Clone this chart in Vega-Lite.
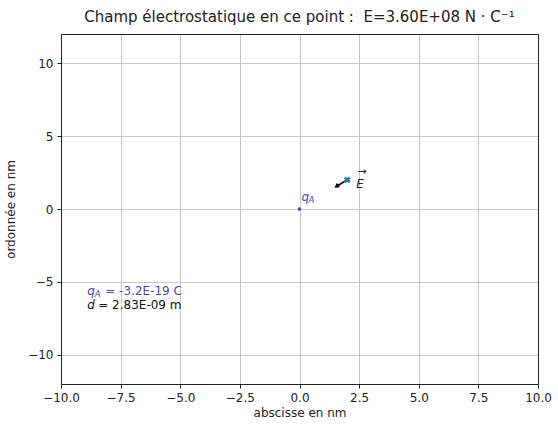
{
  "$schema": "https://vega.github.io/schema/vega-lite/v6.json",
  "width": 477,
  "height": 350,
  "autosize": {"type": "none"},
  "padding": {"left": 61, "top": 34, "right": 20, "bottom": 40},
  "background": "white",
  "title": {"text": "Champ électrostatique en ce point :\u00a0\u00a0E=3.60E+08 N\u00a0·\u00a0C⁻¹", "font": "DejaVu Sans", "fontSize": 15, "fontWeight": "normal", "color": "#222222", "offset": 9, "anchor": "middle"},
  "config": {
    "view": {"stroke": "#222222", "strokeWidth": 1},
    "axis": {"labelFont": "DejaVu Sans", "labelFontSize": 12, "labelColor": "#222222", "titleFont": "DejaVu Sans", "titleFontSize": 12, "titleFontWeight": "normal", "titleColor": "#222222", "gridColor": "#c8c8c8", "gridWidth": 1, "tickColor": "#222222", "tickSize": 4, "domain": true, "domainColor": "#222222", "labelPadding": 4, "labelFlush": false}
  },
  "resolve": {"axis": {"x": "independent", "y": "independent"}},
  "datasets": {
    "charge": [{"x": 0, "y": 0}],
    "point": [{"x": 2, "y": 2}],
    "arrow": [{"x": 2, "y": 2, "x2": 1.55, "y2": 1.55}],
    "info": [{"x": -8.9, "y": -5.6, "t": "q", "sub": "A", "rest": "=\u00a0-3.2E-19 C"}, {"x": -8.9, "y": -6.6, "d": "d", "rest": "=\u00a02.83E-09 m"}]
  },
  "layer": [
    {
      "data": {"name": "charge"},
      "mark": {"type": "point", "shape": "circle", "size": 14, "color": "#4b4b9c", "filled": true, "opacity": 1},
      "encoding": {
        "x": {"field": "x", "type": "quantitative", "scale": {"domain": [-10, 10], "nice": false, "zero": false}, "axis": {"title": "abscisse en nm", "orient": "bottom", "values": [-10, -7.5, -5, -2.5, 0, 2.5, 5, 7.5, 10], "format": ".1f", "labelExpr": "replace(datum.label, '-', '−')", "titlePadding": 4}},
        "y": {"field": "y", "type": "quantitative", "scale": {"domain": [-12, 12], "nice": false, "zero": false}, "axis": {"title": "ordonnée en nm", "orient": "left", "values": [-10, -5, 0, 5, 10], "labelExpr": "replace(datum.label, '-', '−')", "titlePadding": 10}}
      }
    },
    {
      "data": {"name": "charge"},
      "mark": {"type": "text", "text": "q", "fontStyle": "italic", "font": "DejaVu Sans", "fontSize": 12, "color": "#4b4ba8", "align": "left", "dx": 2, "dy": -12},
      "encoding": {
        "x": {"field": "x", "type": "quantitative", "axis": {"orient": "top", "title": null, "labels": false, "ticks": false, "grid": false, "domain": true}},
        "y": {"field": "y", "type": "quantitative", "axis": {"orient": "right", "title": null, "labels": false, "ticks": false, "grid": false, "domain": true}}
      }
    },
    {
      "data": {"name": "charge"},
      "mark": {"type": "text", "text": "A", "fontStyle": "italic", "font": "DejaVu Sans", "fontSize": 8.5, "color": "#4b4ba8", "align": "left", "dx": 9, "dy": -9},
      "encoding": {"x": {"field": "x", "type": "quantitative", "axis": null}, "y": {"field": "y", "type": "quantitative", "axis": null}}
    },
    {
      "data": {"name": "arrow"},
      "mark": {"type": "rule", "color": "black", "strokeWidth": 1.8},
      "encoding": {"x": {"field": "x", "type": "quantitative", "axis": null}, "y": {"field": "y", "type": "quantitative", "axis": null}, "x2": {"field": "x2"}, "y2": {"field": "y2"}}
    },
    {
      "data": {"name": "arrow"},
      "mark": {"type": "point", "shape": "triangle-up", "filled": true, "color": "black", "size": 30, "angle": 234, "opacity": 1},
      "encoding": {"x": {"field": "x2", "type": "quantitative", "axis": null}, "y": {"field": "y2", "type": "quantitative", "axis": null}}
    },
    {
      "data": {"name": "point"},
      "mark": {"type": "point", "shape": "cross", "angle": 45, "filled": true, "color": "#1f77b4", "size": 45, "opacity": 1},
      "encoding": {"x": {"field": "x", "type": "quantitative", "axis": null}, "y": {"field": "y", "type": "quantitative", "axis": null}}
    },
    {
      "data": {"name": "point"},
      "mark": {"type": "text", "text": "E", "fontStyle": "italic", "font": "DejaVu Sans", "fontSize": 12, "color": "#222222", "align": "left", "dx": 9, "dy": 4},
      "encoding": {"x": {"field": "x", "type": "quantitative", "axis": null}, "y": {"field": "y", "type": "quantitative", "axis": null}}
    },
    {
      "data": {"name": "point"},
      "mark": {"type": "text", "text": "→", "font": "DejaVu Sans", "fontSize": 11, "color": "#222222", "align": "left", "dx": 10, "dy": -8},
      "encoding": {"x": {"field": "x", "type": "quantitative", "axis": null}, "y": {"field": "y", "type": "quantitative", "axis": null}}
    },
    {
      "data": {"name": "info"},
      "transform": [{"filter": "datum.t"}],
      "mark": {"type": "text", "fontStyle": "italic", "font": "DejaVu Sans", "fontSize": 12, "color": "#4b4ba8", "align": "left"},
      "encoding": {"x": {"field": "x", "type": "quantitative", "axis": null}, "y": {"field": "y", "type": "quantitative", "axis": null}, "text": {"field": "t"}}
    },
    {
      "data": {"name": "info"},
      "transform": [{"filter": "datum.t"}],
      "mark": {"type": "text", "fontStyle": "italic", "font": "DejaVu Sans", "fontSize": 8.5, "color": "#4b4ba8", "align": "left", "dx": 7.5, "dy": 3},
      "encoding": {"x": {"field": "x", "type": "quantitative", "axis": null}, "y": {"field": "y", "type": "quantitative", "axis": null}, "text": {"field": "sub"}}
    },
    {
      "data": {"name": "info"},
      "transform": [{"filter": "datum.t"}],
      "mark": {"type": "text", "font": "DejaVu Sans", "fontSize": 12, "color": "#4b4ba8", "align": "left", "dx": 18},
      "encoding": {"x": {"field": "x", "type": "quantitative", "axis": null}, "y": {"field": "y", "type": "quantitative", "axis": null}, "text": {"field": "rest"}}
    },
    {
      "data": {"name": "info"},
      "transform": [{"filter": "datum.d"}],
      "mark": {"type": "text", "fontStyle": "italic", "font": "DejaVu Sans", "fontSize": 12, "color": "#111111", "align": "left"},
      "encoding": {"x": {"field": "x", "type": "quantitative", "axis": null}, "y": {"field": "y", "type": "quantitative", "axis": null}, "text": {"field": "d"}}
    },
    {
      "data": {"name": "info"},
      "transform": [{"filter": "datum.d"}],
      "mark": {"type": "text", "font": "DejaVu Sans", "fontSize": 12, "color": "#111111", "align": "left", "dx": 11},
      "encoding": {"x": {"field": "x", "type": "quantitative", "axis": null}, "y": {"field": "y", "type": "quantitative", "axis": null}, "text": {"field": "rest"}}
    }
  ]
}
